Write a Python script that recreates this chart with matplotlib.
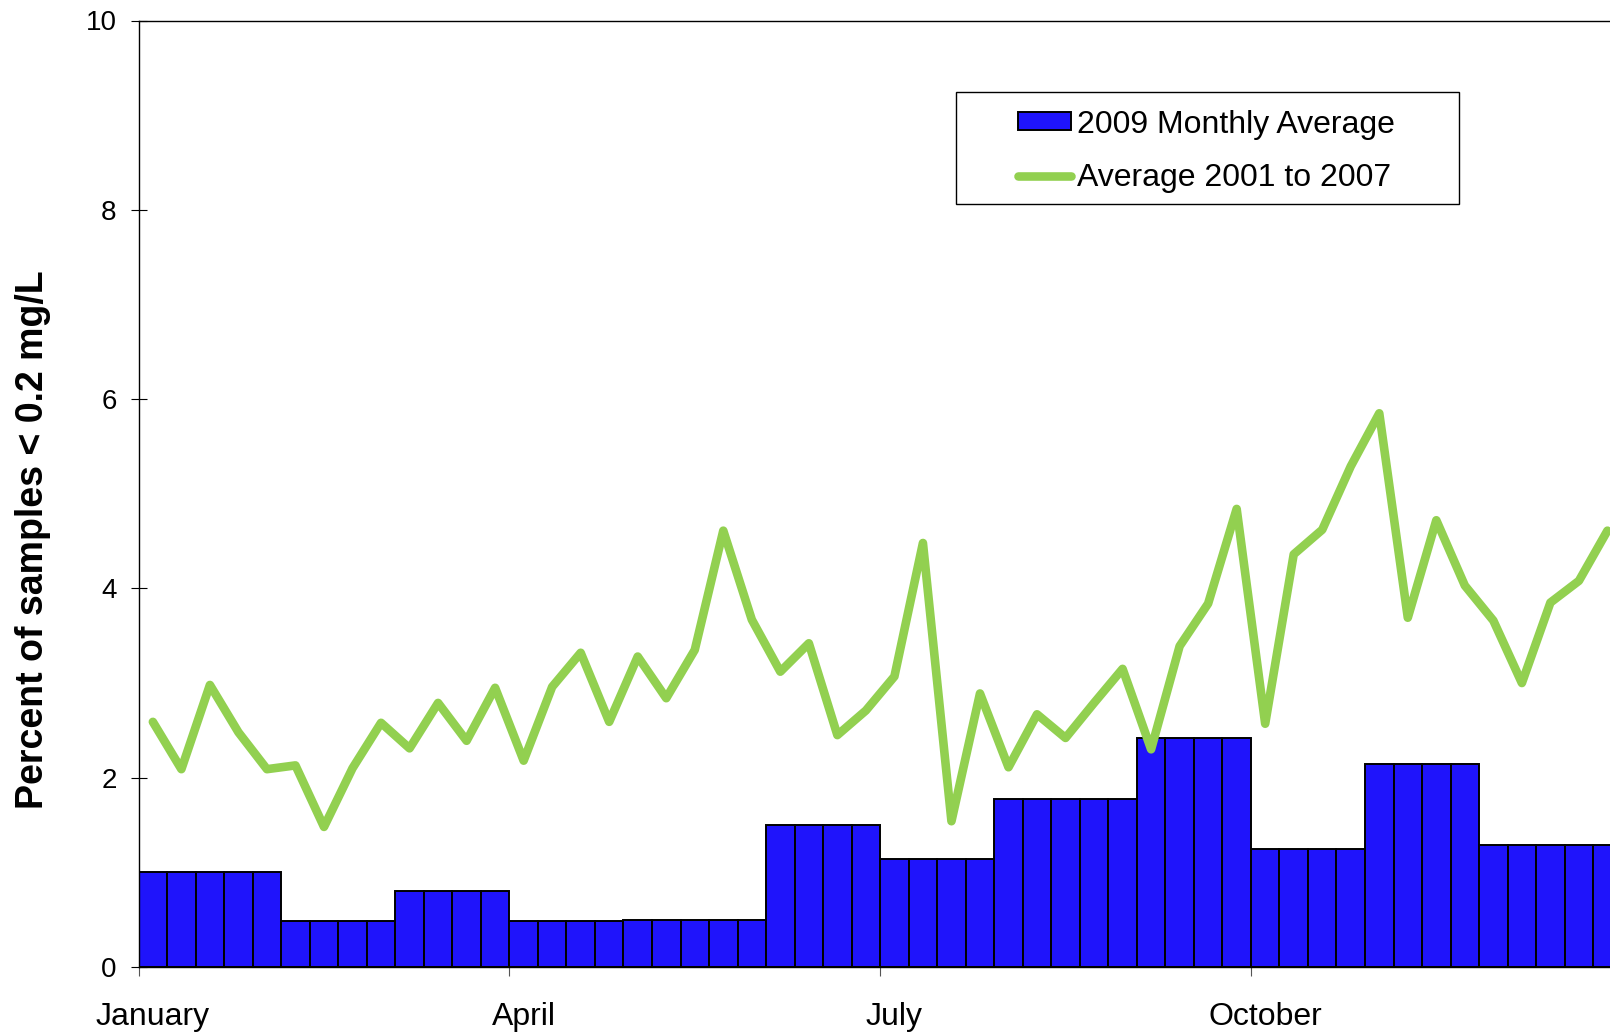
import matplotlib
matplotlib.use("Agg")
import matplotlib.pyplot as plt
from matplotlib.patches import Rectangle
import numpy as np

plt.rcParams['font.family'] = ['Liberation Sans', 'DejaVu Sans']

# ---- data ----
month_labels = ["January", "April", "July", "October"]
month_label_weeks = [0, 13, 26, 39]
weeks_per_month = [5, 4, 4, 4, 5, 4, 4, 5, 4, 4, 4, 5]
monthly_avg_2009 = [1.00, 0.49, 0.80, 0.49, 0.50, 1.50, 1.14, 1.77, 2.42, 1.25, 2.14, 1.29]
avg_2001_2007 = [2.59, 2.09, 2.98, 2.48, 2.09, 2.13, 1.48, 2.10, 2.58, 2.31,
                 2.79, 2.39, 2.95, 2.18, 2.96, 3.32, 2.59, 3.28, 2.84, 3.35,
                 4.61, 3.67, 3.12, 3.42, 2.45, 2.71, 3.07, 4.48, 1.54, 2.89,
                 2.11, 2.67, 2.42, 2.79, 3.15, 2.30, 3.39, 3.84, 4.84, 2.57,
                 4.36, 4.62, 5.29, 5.85, 3.69, 4.72, 4.03, 3.66, 3.00, 3.85,
                 4.08, 4.61]
y_ticks = [0, 2, 4, 6, 8, 10]

weekly_bars = np.repeat(monthly_avg_2009, weeks_per_month)
n = len(avg_2001_2007)
x = np.arange(n) + 0.5

W, H = 1610, 1033
fig = plt.figure(figsize=(W / 100, H / 100), dpi=100)
left, right, top, bottom = 138.6, 1621.7, 20.5, 967
ax = fig.add_axes([left / W, 1 - bottom / H, (right - left) / W, (bottom - top) / H])

bar_color = "#1F14FB"
line_color = "#92D050"
bars = ax.bar(x, weekly_bars, width=1.0, color=bar_color, edgecolor="black",
              linewidth=1.4, label="2009 Monthly Average", zorder=2)
line, = ax.plot(x, avg_2001_2007, color=line_color, linewidth=6.2,
                solid_joinstyle="round", solid_capstyle="round",
                label="Average 2001 to 2007", zorder=3)

ax.set_xlim(0, n)
ax.set_ylim(0, 10)
ax.set_yticks(y_ticks)
ax.set_yticklabels([str(v) for v in y_ticks], fontsize=20)
ax.tick_params(axis='y', direction='inout', length=11.5, width=0.8, pad=10)

ax.set_xticks(month_label_weeks)
ax.set_xticklabels([])
ax.tick_params(axis='x', which='major', direction='out', length=6.5, width=0.8, color="#555555")
ax.set_xticks([w + 0.5 for w in month_label_weeks], minor=True)
ax.set_xticklabels(month_labels, minor=True, fontsize=23)
ax.tick_params(axis='x', which='minor', length=0, pad=25)

ax.spines['right'].set_visible(False)
for s in ['left', 'top', 'bottom']:
    ax.spines[s].set_linewidth(1.0)
    ax.spines[s].set_color("black")

fig.text(33 / W, 1 - 540 / H, "Percent of samples < 0.2 mg/L", rotation=90,
         fontsize=27, fontweight='bold', ha='center', va='center')

# legend box
bx0, bx1, by0, by1 = 956, 1459, 92, 204
fig.patches.append(Rectangle((bx0 / W, 1 - by1 / H), (bx1 - bx0) / W, (by1 - by0) / H,
                             transform=fig.transFigure, facecolor="white",
                             edgecolor="black", linewidth=1.0, zorder=5))
leg = fig.legend([bars, line], ["2009 Monthly Average", "Average 2001 to 2007"],
                 loc='center', bbox_to_anchor=((bx0 + bx1) / 2 / W - 1 / W, 1 - ((by0 + by1) / 2 + 3.5) / H),
                 frameon=False, fontsize=23, handlelength=1.65, handleheight=0.5,
                 handletextpad=0.2, labelspacing=0.75, borderpad=0)
leg.set_zorder(6)

fig.savefig("out.png", dpi=100, facecolor="white")
